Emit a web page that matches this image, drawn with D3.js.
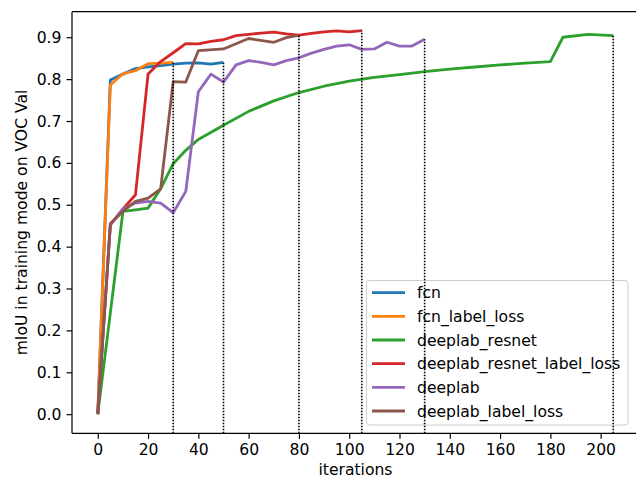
<!DOCTYPE html>
<html>
<head>
<meta charset="utf-8">
<script src="https://cdn.jsdelivr.net/npm/d3@7"></script>
<style>
  body { margin: 0; background: #fff; }
  svg { font-family: "DejaVu Sans", sans-serif; }
</style>
</head>
<body>
<div id="chart"></div>
<script>
// series data
var names = ["fcn", "fcn_label_loss", "deeplab_resnet", "deeplab_resnet_label_loss", "deeplab", "deeplab_label_loss"];
var colors = ["#1f77b4", "#ff7f0e", "#2ca02c", "#d62728", "#9467bd", "#8c564b"];

var fcnX = [0, 5, 10, 15, 20, 25, 30, 35, 40, 45, 50];
var fcnY = [0, 0.798, 0.812, 0.825, 0.829, 0.832, 0.836, 0.838, 0.839, 0.836, 0.840];

var fcnLabelX = [0, 5, 10, 15, 20, 25, 30];
var fcnLabelY = [0, 0.786, 0.813, 0.820, 0.837, 0.838, 0.840];

var resnetX = [0, 10, 15, 20, 25, 30, 35, 40, 50, 60, 70, 80, 90, 100, 110, 120, 130, 140, 150, 160, 170, 180, 185, 195, 205];
var resnetY = [0, 0.484, 0.488, 0.492, 0.538, 0.598, 0.630, 0.656, 0.690, 0.723, 0.748, 0.768, 0.783, 0.795, 0.804, 0.811, 0.818, 0.824, 0.829, 0.834, 0.838, 0.842, 0.900, 0.907, 0.904];

var resnetLabelX = [0, 5, 10, 15, 20, 25, 30, 35, 40, 45, 50, 55, 60, 65, 70, 75, 80, 85, 90, 95, 100, 105];
var resnetLabelY = [0, 0.452, 0.490, 0.524, 0.812, 0.842, 0.863, 0.885, 0.884, 0.890, 0.894, 0.904, 0.907, 0.910, 0.912, 0.908, 0.905, 0.909, 0.913, 0.915, 0.913, 0.916];

var deeplabX = [0, 5, 10, 15, 20, 25, 30, 35, 40, 45, 50, 55, 60, 65, 70, 75, 80, 85, 90, 95, 100, 105, 110, 115, 120, 125, 130];
var deeplabY = [0, 0.452, 0.490, 0.504, 0.508, 0.504, 0.481, 0.532, 0.770, 0.812, 0.793, 0.834, 0.844, 0.840, 0.834, 0.844, 0.851, 0.862, 0.871, 0.879, 0.882, 0.871, 0.872, 0.888, 0.879, 0.879, 0.895];

var deeplabLabelX = [0, 5, 10, 15, 20, 25, 30, 35, 40, 50, 60, 70, 75, 80];
var deeplabLabelY = [0, 0.455, 0.484, 0.508, 0.516, 0.538, 0.794, 0.793, 0.868, 0.872, 0.897, 0.888, 0.899, 0.905];

var xTicks = [0, 20, 40, 60, 80, 100, 120, 140, 160, 180, 200];
var yTicks = [0.0, 0.1, 0.2, 0.3, 0.4, 0.5, 0.6, 0.7, 0.8, 0.9];

var allX = [fcnX, fcnLabelX, resnetX, resnetLabelX, deeplabX, deeplabLabelX];
var allY = [fcnY, fcnLabelY, resnetY, resnetLabelY, deeplabY, deeplabLabelY];

var series = names.map(function(n, i) {
  return {
    name: n,
    color: colors[i],
    points: allX[i].map(function(x, j) { return {x: x, y: allY[i][j]}; })
  };
});

var W = 636, H = 481;
var mLeft = 72, mRight = 639, mTop = 11.7, mBottom = 433.3;
var fs = 15.6;

var svg = d3.select("#chart").append("svg")
    .attr("width", W).attr("height", H);
svg.append("rect").attr("width", W).attr("height", H).attr("fill", "#fff");

var x = d3.scaleLinear().domain([-10.25, 215.25]).range([mLeft, mRight]);
var y = d3.scaleLinear().domain([-0.0457, 0.961]).range([mBottom, mTop]);

// axes
var xAxis = svg.append("g")
    .attr("transform", "translate(0," + mBottom + ")")
    .call(d3.axisBottom(x).tickValues(xTicks).tickSize(5.5).tickPadding(5).tickFormat(d3.format("d")));
var yAxis = svg.append("g")
    .attr("transform", "translate(" + mLeft + ",0)")
    .call(d3.axisLeft(y).tickValues(yTicks).tickSize(5.5).tickPadding(5).tickFormat(d3.format(".1f")));

[xAxis, yAxis].forEach(function(a) {
  a.select(".domain").remove();
  a.selectAll("line").attr("stroke", "#000").attr("stroke-width", 1.2);
  a.selectAll("text").attr("font-size", fs).attr("fill", "#000").attr("font-family", "DejaVu Sans");
});

// spines (right one falls outside the picture)
svg.append("line").attr("x1", mLeft).attr("x2", mLeft).attr("y1", mTop).attr("y2", mBottom)
   .attr("stroke", "#000").attr("stroke-width", 1.2);
svg.append("line").attr("x1", mLeft).attr("x2", W).attr("y1", mBottom).attr("y2", mBottom)
   .attr("stroke", "#000").attr("stroke-width", 1.2);
svg.append("line").attr("x1", mLeft).attr("x2", W).attr("y1", mTop).attr("y2", mTop)
   .attr("stroke", "#000").attr("stroke-width", 1.2);

var line = d3.line()
    .x(function(d) { return x(d.x); })
    .y(function(d) { return y(d.y); });

svg.selectAll("path.series")
   .data(series)
   .enter()
   .append("path")
   .attr("class", "series")
   .attr("d", function(d) { return line(d.points); })
   .attr("fill", "none")
   .attr("stroke", function(d) { return d.color; })
   .attr("stroke-width", 2.8)
   .attr("stroke-linejoin", "round");

// legend
var lg = svg.append("g");
lg.append("rect")
  .attr("x", 366.5).attr("y", 280.5).attr("width", 261.5).attr("height", 144.5)
  .attr("rx", 3).attr("fill", "#fff").attr("fill-opacity", 0.8)
  .attr("stroke", "#cccccc").attr("stroke-width", 1);

var rows = lg.selectAll("g.row")
   .data(series)
   .enter()
   .append("g")
   .attr("transform", function(d, i) { return "translate(0," + (292.7 + i * 23.66) + ")"; });
rows.append("line")
   .attr("x1", 372).attr("x2", 405).attr("y1", 0).attr("y2", 0)
   .attr("stroke", function(d) { return d.color; })
   .attr("stroke-width", 2.8);
rows.append("text")
   .attr("x", 417).attr("y", 5.5)
   .attr("font-size", fs)
   .attr("fill", "#000")
   .text(function(d) { return d.name; });

// dotted markers at the end of each run
svg.selectAll("line.end")
   .data(series)
   .enter()
   .append("line")
   .attr("class", "end")
   .attr("x1", function(d) { return x(d.points[d.points.length - 1].x); })
   .attr("x2", function(d) { return x(d.points[d.points.length - 1].x); })
   .attr("y1", mBottom)
   .attr("y2", function(d) { return y(d.points[d.points.length - 1].y); })
   .attr("stroke", "#000")
   .attr("stroke-width", 1.6)
   .attr("stroke-dasharray", "1.6,1.4");

// axis titles
svg.append("text")
   .attr("x", (mLeft + mRight) / 2).attr("y", 475)
   .attr("text-anchor", "middle")
   .attr("font-size", fs)
   .text("iterations");
svg.append("text")
   .attr("transform", "translate(27," + ((mTop + mBottom) / 2) + ") rotate(-90)")
   .attr("text-anchor", "middle")
   .attr("font-size", fs)
   .text("mIoU in training mode on VOC Val");
</script>
</body>
</html>
